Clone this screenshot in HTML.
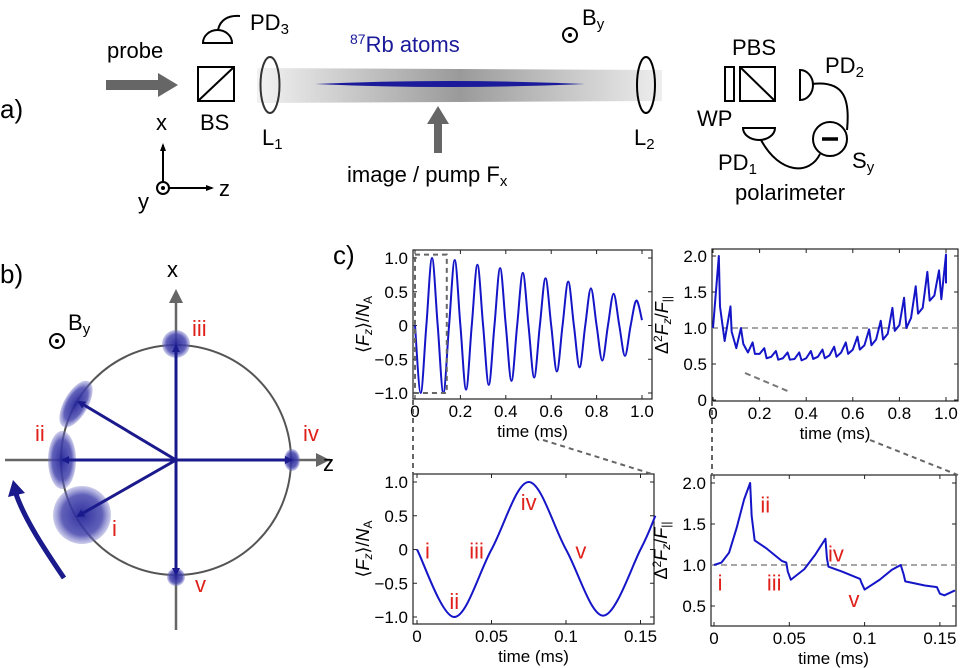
<!DOCTYPE html>
<html><head><meta charset="utf-8"><style>
html,body{margin:0;padding:0;background:#fff;}
svg{display:block;font-family:"Liberation Sans",sans-serif;}
</style></head><body>
<svg id="fig" width="961" height="668" viewBox="0 0 961 668" xmlns="http://www.w3.org/2000/svg">
<defs>
<linearGradient id="beam" x1="0" x2="1" y1="0" y2="0">
<stop offset="0" stop-color="#f2f2f2"/><stop offset="0.5" stop-color="#9a9a9a"/><stop offset="1" stop-color="#eeeeee"/>
</linearGradient>
<radialGradient id="blob"><stop offset="0" stop-color="#25259a" stop-opacity="0.95"/><stop offset="0.7" stop-color="#4545ad" stop-opacity="0.85"/><stop offset="1" stop-color="#7070c8" stop-opacity="0.35"/></radialGradient>
<marker id="ah" markerWidth="8" markerHeight="8" refX="6" refY="4" orient="auto" markerUnits="userSpaceOnUse"><path d="M0,0 L8,4 L0,8 Z" fill="#1a1a8c"/></marker>
<marker id="ahk" markerWidth="8" markerHeight="8" refX="6" refY="4" orient="auto" markerUnits="userSpaceOnUse"><path d="M0,1 L8,4 L0,7 Z" fill="#000"/></marker>
</defs>

<!-- Panel a -->
<g font-size="22">
<text x="0" y="118" font-size="26">a)</text>
<text x="107" y="58">probe</text>
<path d="M106,85 L160,85" stroke="#666" stroke-width="10"/>
<path d="M158,73 L178,85 L158,97 Z" fill="#666"/>
<path d="M203,43 A14.5,13 0 0 1 232,43 Z" fill="none" stroke="#000" stroke-width="2"/>
<path d="M218,30 C220,20 228,15 240,16" fill="none" stroke="#000" stroke-width="2"/>
<text x="250" y="30">PD<tspan font-size="15" dy="4">3</tspan></text>
<rect x="198" y="67" width="36" height="34" fill="none" stroke="#000" stroke-width="2"/>
<path d="M198,101 L234,67" stroke="#000" stroke-width="2"/>
<text x="200" y="130">BS</text>
<polygon points="257,68 662,70 662,101 257,103" fill="url(#beam)"/>
<ellipse cx="270" cy="85" rx="9.5" ry="28" fill="none" stroke="#333" stroke-width="2"/>
<text x="262" y="145">L<tspan font-size="15" dy="4">1</tspan></text>
<path d="M315,84 Q448,78 585,84 Q448,90 315,84 Z" fill="#1a1a9a"/>
<text x="350" y="52" fill="#1a1a9a"><tspan font-size="14" dy="-8">87</tspan><tspan dy="8">Rb atoms</tspan></text>
<path d="M438,153 L438,122" stroke="#666" stroke-width="8"/>
<path d="M427,124 L438,106 L449,124 Z" fill="#666"/>
<text x="347" y="182">image / pump F<tspan font-size="15" dy="4">x</tspan></text>
<g>
<path d="M163,188 L163,145" stroke="#000" stroke-width="2" marker-end="url(#ahk)"/>
<path d="M163,188 L212,188" stroke="#000" stroke-width="2" marker-end="url(#ahk)"/>
<circle cx="163" cy="188" r="6" fill="#fff" stroke="#000" stroke-width="2"/><circle cx="163" cy="188" r="2" fill="#000"/>
<text x="156" y="130">x</text><text x="219" y="196">z</text><text x="138" y="209">y</text>
</g>
<g>
<circle cx="570" cy="35" r="7" fill="none" stroke="#000" stroke-width="2"/><circle cx="570" cy="35" r="2" fill="#000"/>
<text x="582" y="25">B<tspan font-size="15" dy="4">y</tspan></text>
</g>
<ellipse cx="646" cy="85" rx="9" ry="28" fill="none" stroke="#000" stroke-width="2"/>
<text x="634" y="145">L<tspan font-size="15" dy="4">2</tspan></text>
<g>
<rect x="725" y="67" width="9" height="34" fill="none" stroke="#000" stroke-width="2"/>
<rect x="740" y="67" width="35" height="34" fill="none" stroke="#000" stroke-width="2"/>
<path d="M740,67 L775,101" stroke="#000" stroke-width="2"/>
<text x="732" y="55">PBS</text>
<path d="M800,70 A13,15 0 0 1 800,100 Z" fill="none" stroke="#000" stroke-width="2"/>
<text x="825" y="73">PD<tspan font-size="15" dy="4">2</tspan></text>
<path d="M743,128 A16,12 0 0 0 775,128 Z" fill="none" stroke="#000" stroke-width="2"/>
<text x="697" y="126">WP</text>
<text x="718" y="170">PD<tspan font-size="15" dy="4">1</tspan></text>
<path d="M812,84 C845,80 850,100 847,130" fill="none" stroke="#000" stroke-width="2"/>
<path d="M761,140 C780,175 810,175 820,154" fill="none" stroke="#000" stroke-width="2"/>
<circle cx="830" cy="139" r="17" fill="#fff" stroke="#000" stroke-width="2"/>
<path d="M822,139 L838,139" stroke="#000" stroke-width="3.5"/>
<text x="852" y="168">S<tspan font-size="15" dy="4">y</tspan></text>
<text x="735" y="200">polarimeter</text>
</g>
</g>

<!-- Panel b -->
<g>
<text x="0" y="283" font-size="26">b)</text>
<path d="M5,460 L330,460" stroke="#666" stroke-width="2.5"/>
<path d="M176,630 L176,300" stroke="#666" stroke-width="2.5"/>
<path d="M169,303 L176,289 L183,303 Z" fill="#666"/>
<path d="M316,453 L330,460 L316,467 Z" fill="#666"/>
<text x="167" y="277" font-size="22">x</text>
<text x="323" y="471" font-size="22">z</text>
<circle cx="176" cy="460" r="115" fill="none" stroke="#555" stroke-width="2"/>
<g>
<circle cx="57" cy="341" r="7" fill="none" stroke="#000" stroke-width="2"/><circle cx="57" cy="341" r="2" fill="#000"/>
<text x="68" y="330" font-size="22">B<tspan font-size="15" dy="4">y</tspan></text>
</g>
<circle cx="82" cy="515" r="29" fill="url(#blob)"/>
<ellipse cx="62" cy="460" rx="14" ry="29" fill="url(#blob)"/>
<ellipse cx="76" cy="404" rx="12" ry="26" transform="rotate(30 76 404)" fill="url(#blob)"/>
<circle cx="176" cy="344" r="14" fill="url(#blob)"/>
<ellipse cx="292" cy="460" rx="8" ry="11" fill="url(#blob)"/>
<ellipse cx="176" cy="577" rx="9" ry="9" fill="url(#blob)"/>
<g stroke="#1a1a8c" stroke-width="3" marker-end="url(#ah)">
<path d="M176,460 L78,516"/><path d="M176,460 L63,460"/><path d="M176,460 L79,402"/>
<path d="M176,460 L176,346"/><path d="M176,460 L291,460"/><path d="M176,460 L176,574"/>
</g>
<path d="M64,578 C45,550 25,520 16,494" fill="none" stroke="#1a1a8c" stroke-width="5"/>
<path d="M8,497 L13,480 L25,493 Z" fill="#1a1a8c"/>
<g fill="#e0201a" font-size="22">
<text x="192" y="336">iii</text><text x="35" y="441">ii</text><text x="303" y="441">iv</text>
<text x="112" y="536">i</text><text x="195" y="592">v</text>
</g>
</g>

<text x="333" y="264" font-size="26">c)</text>
<g id="charts"></g>
</svg>
<script>
// Top-left: <Fz>/NA full 1 ms
const tlTimes = [0,0.025,0.05,0.075,0.1,0.125,0.15,0.175,0.2,0.225,0.25,0.275,0.3,0.325,0.35,0.375,0.4,0.425,0.45,0.475,0.5,0.525,0.55,0.575,0.6,0.625,0.65,0.675,0.7,0.725,0.75,0.775,0.8,0.825,0.85,0.875,0.9,0.925,0.95,0.975,1.0];
const tlValues = [0,-1,0,1,0,-1,0,0.97,0,-0.95,0,0.9,0,-0.88,0,0.85,0,-0.82,0,0.78,0,-0.77,0,0.7,0,-0.68,0,0.65,0,-0.62,0,0.55,0,-0.52,0,0.47,0,-0.45,0,0.37,0.08];
// Bottom-left: zoomed
const blTimes = [0,0.025,0.05,0.075,0.1,0.125,0.15,0.16];
const blValues = [0,-1,0,1,0,-0.98,0,0.5];
// Top-right: variance
const trTimes = [0,0.025,0.03,0.05,0.075,0.08,0.1,0.12,0.13,0.15,0.17,0.18,0.2,0.22,0.23,0.25,0.27,0.28,0.3,0.32,0.33,0.35,0.37,0.38,0.4,0.42,0.43,0.45,0.47,0.48,0.5,0.52,0.53,0.55,0.57,0.58,0.6,0.62,0.63,0.65,0.67,0.68,0.7,0.72,0.73,0.75,0.77,0.78,0.8,0.82,0.83,0.85,0.87,0.88,0.9,0.92,0.93,0.95,0.97,0.98,1.0,1.0];
const trValues = [1.0,2.0,1.3,0.82,1.3,0.95,0.72,1.0,0.78,0.66,0.8,0.64,0.64,0.72,0.58,0.6,0.68,0.56,0.58,0.66,0.56,0.57,0.66,0.55,0.58,0.68,0.57,0.6,0.7,0.58,0.62,0.74,0.6,0.66,0.8,0.64,0.7,0.88,0.7,0.76,0.98,0.76,0.84,1.1,0.84,0.92,1.28,0.96,1.04,1.42,1.0,1.14,1.58,1.2,1.28,1.78,1.38,1.45,1.8,1.4,2.02,1.62];
// Bottom-right: variance zoomed
const brTimes = [0,0.005,0.01,0.015,0.02,0.024,0.025,0.027,0.035,0.045,0.048,0.049,0.051,0.06,0.067,0.074,0.075,0.076,0.085,0.097,0.098,0.1,0.11,0.118,0.124,0.126,0.127,0.14,0.148,0.15,0.153,0.16];
const brValues = [1.0,1.03,1.15,1.45,1.8,2.0,1.6,1.3,1.2,1.05,1.03,0.92,0.82,0.95,1.12,1.32,1.08,0.98,0.92,0.83,0.78,0.7,0.82,0.94,1.0,0.88,0.8,0.75,0.73,0.65,0.63,0.69];
// Ticks
const tlXTicks = [0,0.2,0.4,0.6,0.8,1.0]; const tlXLabels = ["0","0.2","0.4","0.6","0.8","1.0"];
const tlYTicks = [-1,-0.5,0,0.5,1]; const tlYLabels = ["\u22121.0","\u22120.5","0","0.5","1.0"];
const blXTicks = [0,0.05,0.1,0.15]; const blXLabels = ["0","0.05","0.1","0.15"];
const trYTicks = [0,0.5,1,1.5,2]; const trYLabels = ["0","0.5","1.0","1.5","2.0"];
const brYTicks = [0.5,1,1.5,2]; const brYLabels = ["0.5","1.0","1.5","2.0"];

const NS = "http://www.w3.org/2000/svg";
const root = document.getElementById('charts');
function mk(tag, attrs, parent){const e=document.createElementNS(NS,tag);for(const k in attrs)e.setAttribute(k,attrs[k]);(parent||root).appendChild(e);return e;}
function lin(d0,d1,r0,r1){return v=>r0+(v-d0)/(d1-d0)*(r1-r0);}

function frame(name, box, sx, sy, xt, xl, yt, yl, ylabel){
  const g = mk('g',{});
  
  
  const r = mk('rect',{x:box[0],y:box[1],width:box[2]-box[0],height:box[3]-box[1],fill:'none',stroke:'#222','stroke-width':1.2},g);
  
  
  xt.forEach((t,i)=>{
    const x=sx(t);
    mk('line',{x1:x,x2:x,y1:box[3],y2:box[3]-4,stroke:'#222'},g);
    mk('line',{x1:x,x2:x,y1:box[1],y2:box[1]+4,stroke:'#222'},g);
    const tx=mk('text',{x:x,y:box[3]+18,'font-size':17,'text-anchor':'middle'},g);
    tx.textContent=xl[i];
    
    
  });
  yt.forEach((t,i)=>{
    const y=sy(t);
    mk('line',{x1:box[0],x2:box[0]+4,y1:y,y2:y,stroke:'#222'},g);
    mk('line',{x1:box[2],x2:box[2]-4,y1:y,y2:y,stroke:'#222'},g);
    const tx=mk('text',{x:box[0]-5,y:y+6,'font-size':17,'text-anchor':'end'},g);
    tx.textContent=yl[i];
    
    
  });
  const xlab=mk('text',{x:(box[0]+box[2])/2,y:box[3]+38,'font-size':17,'text-anchor':'middle'},g);
  xlab.textContent='time (ms)';
  
  
  const yx=box[0]-44, yy=(box[1]+box[3])/2;
  const ylab=mk('text',{x:yx,y:yy,'font-size':18,'text-anchor':'middle',transform:`rotate(-90 ${yx} ${yy})`},g);
  ylab.innerHTML=ylabel;
  
  
  return g;
}
function crPath(xs, ys){
  let d=`M${xs[0]},${ys[0]}`;
  for(let i=0;i<xs.length-1;i++){
    const p0=[xs[Math.max(i-1,0)],ys[Math.max(i-1,0)]],p1=[xs[i],ys[i]],p2=[xs[i+1],ys[i+1]],p3=[xs[Math.min(i+2,xs.length-1)],ys[Math.min(i+2,xs.length-1)]];
    const c1=[p1[0]+(p2[0]-p0[0])/6,p1[1]+(p2[1]-p0[1])/6], c2=[p2[0]-(p3[0]-p1[0])/6,p2[1]-(p3[1]-p1[1])/6];
    d+=` C${c1[0]},${c1[1]} ${c2[0]},${c2[1]} ${p2[0]},${p2[1]}`;
  }
  return d;
}
const fzLabel = '\u27E8<tspan font-style="italic">F</tspan><tspan font-size="12" font-style="italic" dy="3">z</tspan><tspan dy="-3">\u27E9/</tspan><tspan font-style="italic">N</tspan><tspan font-size="12" dy="3">A</tspan>';
const varLabel = '\u0394<tspan font-size="12" dy="-6">2</tspan><tspan font-style="italic" dy="6">F</tspan><tspan font-size="12" font-style="italic" dy="3">z</tspan><tspan dy="-3">/</tspan><tspan font-style="italic">F</tspan><tspan font-size="12" dy="3">||</tspan>';

// top-left
{
  const sx=lin(0,1,415,642), sy=lin(-1,1,393,258);
  const g=frame('chart-mean-spin-full',[413,250,652,399],sx,sy,tlXTicks,tlXLabels,tlYTicks,tlYLabels,fzLabel);
  const p=mk('path',{d:crPath(tlTimes.map(sx),tlValues.map(sy)),fill:'none',stroke:'#1515c8','stroke-width':2},g);
  
  
  const z=mk('rect',{x:sx(0),y:sy(1.05),width:sx(0.14)-sx(0),height:sy(-1.0)-sy(1.05),fill:'none',stroke:'#666','stroke-width':2,'stroke-dasharray':'5,4'},g);
  
  
}
// bottom-left
{
  const sx=lin(0,0.05,417,491.5), sy=lin(-1,1,617,482);
  const g=frame('chart-mean-spin-zoom',[413,474,654,624],sx,sy,blXTicks,blXLabels,tlYTicks,tlYLabels,fzLabel);
  const p=mk('path',{d:crPath(blTimes.map(sx),blValues.map(sy)),fill:'none',stroke:'#1515c8','stroke-width':2},g);
  
  
  [['i',0.007,0],['ii',0.025,-0.75],['iii',0.04,0],['iv',0.075,0.72],['v',0.11,0]].forEach(a=>{
    const t=mk('text',{x:sx(a[1]),y:sy(a[2])+9,'font-size':22,fill:'#e0201a','text-anchor':'middle'},g);
    t.textContent=a[0];
    
    
  });
}
// top-right
{
  const sx=lin(0,1,713,946), sy=lin(0,2,400,256);
  const g=frame('chart-variance-full',[712,249,958,401],sx,sy,tlXTicks,tlXLabels,trYTicks,trYLabels,varLabel);
  mk('line',{x1:712,x2:958,y1:sy(1),y2:sy(1),stroke:'#888','stroke-width':1.5,'stroke-dasharray':'6,4'},g);
  mk('line',{x1:745,x2:790,y1:373,y2:392,stroke:'#777','stroke-width':2,'stroke-dasharray':'6,4'},g);
  const p=mk('polyline',{points:trTimes.map((t,i)=>sx(t)+','+sy(trValues[i])).join(' '),fill:'none',stroke:'#1515c8','stroke-width':2,'stroke-linejoin':'round'},g);
  
  
}
// bottom-right
{
  const sx=lin(0,0.05,714,789.3), sy=lin(1,2,565,483);
  const g=frame('chart-variance-zoom',[711,475,956,626],sx,sy,blXTicks,blXLabels,brYTicks,brYLabels,varLabel);
  mk('line',{x1:711,x2:956,y1:sy(1),y2:sy(1),stroke:'#888','stroke-width':1.5,'stroke-dasharray':'6,4'},g);
  const p=mk('polyline',{points:brTimes.map((t,i)=>sx(t)+','+sy(brValues[i])).join(' '),fill:'none',stroke:'#1515c8','stroke-width':2,'stroke-linejoin':'round'},g);
  
  
  [['i',0.004,0.8],['ii',0.034,1.75],['iii',0.04,0.8],['iv',0.081,1.15],['v',0.093,0.6]].forEach(a=>{
    const t=mk('text',{x:sx(a[1]),y:sy(a[2])+9,'font-size':22,fill:'#e0201a','text-anchor':'middle'},g);
    t.textContent=a[0];
    
    
  });
}
// connector dashed lines
[[413,400,413,474],[543,440,652,474],[712,401,712,475],[870,440,958,475]].forEach(c=>{
  const l=mk('line',{x1:c[0],y1:c[1],x2:c[2],y2:c[3],stroke:'#666','stroke-width':2,'stroke-dasharray':'5,4'});
  
  
});
</script>
</body></html>
